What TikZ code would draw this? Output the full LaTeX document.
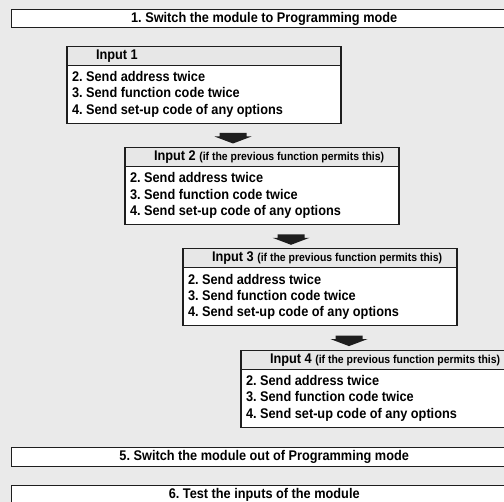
\documentclass[tikz,border=0pt]{standalone}
\usepackage{fontspec}
\newfontfamily\bcond[FakeStretch=0.91]{Liberation Sans Bold}
\usetikzlibrary{calc}
\definecolor{bggray}{RGB}{234,234,234}
\definecolor{headgray}{RGB}{231,231,231}
\definecolor{linecol}{RGB}{30,30,30}
\frenchspacing
\tikzset{
  boxline/.style={draw=linecol, line width=1.1pt, outer sep=0pt},
  widebox/.style={boxline, fill=white, minimum width=505pt, minimum height=18.5pt,
    inner sep=0pt, anchor=north west, font=\bcond\fontsize{14}{16}\selectfont\frenchspacing},
  headbox/.style={boxline, fill=headgray, minimum width=274pt, inner sep=0pt,
    minimum height=19pt, anchor=north west,
    font=\bcond\fontsize{14}{16}\selectfont\frenchspacing},
  bodybox/.style={boxline, fill=white, minimum width=274pt, inner sep=0pt,
    minimum height=58pt, anchor=north west,
    font=\bcond\fontsize{14}{16.3}\selectfont\frenchspacing},
  blockarrow/.pic={\fill[linecol] (-13.5,0) -- (13.5,0) -- (13.5,-3.5) -- (18.5,-3.5)
    -- (0,-10.5) -- (-18.5,-3.5) -- (-13.5,-3.5) -- cycle;}
}
\newcommand{\cond}{\fontsize{11.5}{13}\selectfont}
\newcommand{\headtext}[1]{\makebox[264pt][l]{\hspace*{24pt}#1}}
\newcommand{\bodytext}{\parbox{264pt}{\frenchspacing 2. Send address twice\\3. Send function code twice\\4. Send set-up code of any options}}
\begin{document}
\begin{tikzpicture}[x=1pt,y=1pt]
\fill[bggray] (0,0) rectangle (504,-502);
\useasboundingbox (0,0) rectangle (504,-502);

\node[widebox] (s1) at (11.7,-9.3) {1. Switch the module to Programming mode};

\node[headbox] (h1) at (67,-46.3) {\headtext{Input 1}};
\node[bodybox] (b1) at (h1.south west) {\bodytext};

\node[headbox] (h2) at (125,-147.6) {\headtext{Input 2 {\cond(if the previous function permits this)}}};
\node[bodybox] (b2) at (h2.south west) {\bodytext};

\node[headbox] (h3) at (183,-248.9) {\headtext{Input 3 {\cond(if the previous function permits this)}}};
\node[bodybox] (b3) at (h3.south west) {\bodytext};

\node[headbox] (h4) at (241,-350.2) {\headtext{Input 4 {\cond(if the previous function permits this)}}};
\node[bodybox] (b4) at (h4.south west) {\bodytext};

\coordinate (a1) at ($(b1.south west)+(166,-9.7)$);
\coordinate (a2) at ($(b2.south west)+(166,-9.7)$);
\coordinate (a3) at ($(b3.south west)+(166,-9.7)$);
\pic at (a1) {blockarrow};
\pic at (a2) {blockarrow};
\pic at (a3) {blockarrow};

\node[widebox] (s5) at (11.7,-447.7) {5. Switch the module out of Programming mode};
\node[widebox] (s6) at (11.7,-485.3) {6. Test the inputs of the module};
\end{tikzpicture}
\end{document}
